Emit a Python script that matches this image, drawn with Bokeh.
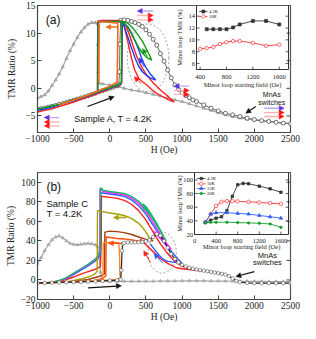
import numpy as np
from bokeh.plotting import figure
from bokeh.layouts import column
from bokeh.models import Range1d, Arrow, NormalHead, ColumnDataSource, FixedTicker, Label
from bokeh.core.properties import value
from bokeh.embed import file_html
from bokeh.resources import INLINE

SERIF = "Liberation Serif"
SANS = "Liberation Sans"

# ---------------- shared ----------------
X_RANGE = (-1000, 2500)
X_TICKS = [-1000, -500, 0, 500, 1000, 1500, 2000, 2500]

# ---------------- panel (a) data ----------------
A_Y_RANGE = (-8, 15)
A_Y_TICKS = [-5, 0, 5, 10, 15]

a_tri_x = [2500, 2400, 2300, 2200, 2100, 2000, 1900, 1800, 1700, 1600, 1500, 1400, 1300, 1200,
           1100, 1000, 900, 800, 700, 600, 500, 400, 300, 200, 100, 0, -100,
           -150, -160, -165, -170,
           -200, -250, -300, -350, -400, -450, -500, -550, -600, -650, -700, -750, -800, -850,
           -900, -950, -1000]
a_tri_y = [-6.4, -6.3, -6.15, -6.0, -5.9, -5.75, -5.6, -5.4, -5.1, -4.8, -4.4, -4.0, -3.6, -3.2,
           -2.8, -2.4, -2.1, -1.7, -1.4, -1.1, -0.8, -0.5, -0.3, 0.0, 0.3, 0.6, 0.8,
           0.9, 3.0, 8.0, 11.7,
           11.9, 11.9, 11.6, 11.0, 10.2, 9.2, 8.0, 6.8, 5.4, 3.9, 2.6, 1.5, 0.5, -0.5,
           -1.2, -1.5, -1.8]

a_circ_x = [-1000, -950, -900, -850, -800, -750, -700, -650, -600, -550, -500, -450, -400, -350,
            -300, -250, -200, -150, -100, -50, 0, 50, 100,
            125, 135, 140, 150,
            200, 250, 300, 350, 400, 450, 500, 550, 600, 650, 700, 750, 800, 850, 900, 950,
            1000, 1050, 1100, 1150, 1200,
            1300, 1400, 1500, 1600, 1700, 1800, 1900, 2000, 2100, 2200, 2300, 2400, 2500]
a_circ_y = [-3.8, -3.7, -3.55, -3.4, -3.25, -3.1, -2.9, -2.75, -2.55, -2.35, -2.15, -1.95, -1.75, -1.55,
            -1.35, -1.1, -0.9, -0.65, -0.4, -0.2, 0.0, 0.2, 0.45,
            0.7, 3.0, 8.0, 12.3,
            12.4, 12.3, 12.1, 11.9, 11.6, 11.2, 10.6, 9.8, 8.9, 7.8, 6.3, 4.9, 3.3, 1.9, 0.6, -0.2,
            -0.8, -1.3, -1.7, -2.1, -2.4,
            -3.0, -3.6, -4.1, -4.5, -4.8, -5.1, -5.4, -5.65, -5.85, -6.0, -6.15, -6.3, -6.4]

a_red_x = [-1000, -900, -800, -700, -600, -500, -400, -300, -200, -100, 0, 100, 150, 165, 170, 175,
           220, 270, 320, 370, 420, 452, 500, 600, 700, 800, 890,
           800, 700, 600, 520, 452, 400, 340, 290, 240, 200, 175,
           100, 0, -100, -165, -170, -172]
a_red_y = [-4.3, -4.0, -3.7, -3.3, -2.9, -2.5, -2.0, -1.6, -1.1, -0.6, -0.1, 0.4, 0.7, 1.0, 6.0, 11.9,
           11.4, 9.8, 7.8, 5.9, 4.4, 3.6, 2.6, 1.0, -0.3, -1.4, -2.5,
           -2.0, -1.3, -0.5, 0.5, 1.2, 1.8, 3.5, 6.0, 9.0, 11.2, 12.1,
           12.3, 12.3, 12.3, 12.2, 6.0, -0.8]

a_blue_x = [-1000, -900, -800, -700, -600, -500, -400, -300, -200, -100, 0, 100, 150, 162, 166, 170,
            250, 300, 350, 400, 452, 500, 560, 636,
            560, 500, 452, 400, 350, 300, 250, 200, 175,
            100, 0, -100, -162, -166, -168]
a_blue_y = [-4.0, -3.7, -3.4, -3.0, -2.6, -2.2, -1.8, -1.4, -0.9, -0.4, 0.0, 0.5, 0.8, 1.1, 6.0, 12.0,
            11.2, 10.0, 8.6, 7.0, 5.0, 3.8, 2.6, 1.5,
            1.9, 2.4, 3.0, 4.0, 5.5, 7.3, 9.3, 11.2, 12.0,
            12.1, 12.1, 12.1, 12.0, 6.0, -0.5]

a_green_x = [-1000, -900, -800, -700, -600, -500, -400, -300, -200, -100, 0, 100, 150, 160, 164, 168,
             250, 300, 350, 400, 452, 500, 550, 580,
             520, 452, 400, 350, 300, 250, 200, 175,
             100, 0, -100, -160, -164, -166]
a_green_y = [-3.7, -3.5, -3.2, -2.9, -2.5, -2.1, -1.7, -1.3, -0.8, -0.3, 0.1, 0.6, 0.9, 1.2, 6.0, 12.1,
             11.8, 11.2, 10.4, 9.5, 8.5, 7.3, 6.0, 5.1,
             5.5, 6.4, 7.4, 8.6, 9.9, 11.0, 11.8, 12.1,
             12.1, 12.1, 12.1, 12.0, 6.0, -0.3]

a_orange_x = [-700, -500, -300, -147, 0, 100, 108, 112, 50, -50, -147, -150, -152]
a_orange_y = [-3.0, -2.1, -1.2, -0.4, 0.4, 1.1, 6.0, 11.8, 11.9, 12.0, 12.1, 6.0, 0.9]

A_ELLIPSE = dict(x=[530], y=[5.5], w=[575], h=[12.3])

# arrows: start x, start y, end x, end y
a_arr_purple = ([600, 1098, 2135, -700], [14.0, 0.4, -3.6, -5.3], [380, 890, 2412, -907], [14.0, 0.4, -3.6, -5.3])
a_arr_red = ([380, 380, 890, 890, 2135, 2135, -700, -700],
             [13.2, 12.4, -0.4, -1.1, -4.4, -5.1, -6.1, -6.8],
             [600, 600, 1098, 1098, 2412, 2412, -907, -907],
             [13.2, 12.4, -0.4, -1.1, -4.4, -5.1, -6.1, -6.8])
a_arr_green = ([521], [5.8], [452], [7.2])
a_arr_blue = ([476], [3.9], [407], [5.5])
a_arr_redloop = ([430], [0.9], [337], [2.1])
a_arr_orange = ([106], [11.1], [-55], [11.1])
a_arr_black = ([-308, 2019], [-3.3, -3.3], [61, 1881], [-1.5, -4.5])

# inset (a)
IA_X_RANGE = (345, 1740)
IA_Y_RANGE = (5, 15.8)
IA_X_TICKS = [400, 800, 1200, 1600]
IA_Y_TICKS = [6, 8, 10, 12, 14]
ia_42_x = [500, 600, 700, 800, 900, 1000, 1200, 1400, 1600]
ia_42_y = [11.8, 11.8, 11.8, 11.8, 12.1, 12.6, 13.2, 13.2, 12.6]
ia_10_x = [400, 500, 600, 700, 800, 900, 1000, 1200, 1400, 1600]
ia_10_y = [8.5, 8.6, 8.8, 9.3, 9.6, 9.8, 9.8, 9.5, 9.0, 9.2]

# ---------------- panel (b) data ----------------
B_Y_RANGE = (-20, 110)
B_Y_TICKS = [-20, 0, 20, 40, 60, 80, 100]

b_tri_x = [2500, 2400, 2300, 2200, 2100, 2000, 1900, 1800, 1700, 1600, 1500, 1400, 1300, 1200,
           1100, 1000, 900, 800, 700, 600, 500, 400, 300, 200, 100, 0,
           -100, -110, -130, -150, -170,
           -200, -250, -300, -350, -400, -450, -500, -550, -600, -650, -700, -750, -800, -850,
           -900, -950, -1000]
b_tri_y = [-1.7, -1.7, -1.6, -1.6, -1.5, -1.5, -1.4, -1.3, -1.3, -1.2, -1.2, -1.1, -1.0, -1.0,
           -1.0, -1.0, -1.1, -1.2, -1.2, -1.3, -1.4, -1.4, -1.5, -1.5, -1.5, -1.5,
           -1.0, 0.0, 8.0, 25.0, 34.0,
           36.0, 37.0, 37.5, 37.0, 36.5, 36.0, 36.5, 37.5, 40.0, 43.0, 45.0, 44.0, 41.0, 36.0,
           30.0, 23.0, 17.0]

b_blk_x = [-1000, -900, -800, -700, -600, -500, -400, -300, -200, -100, 0, 100,
           150, 160, 170, 180,
           200, 250, 300, 350, 400, 450, 500, 550, 600, 650,
           700, 750, 800, 850, 900, 950, 1000, 1050, 1100, 1150,
           1200, 1250, 1300, 1350, 1400, 1450, 1500, 1550, 1600, 1650,
           1700, 1750, 1800,
           1900, 2000, 2100, 2200, 2300, 2400, 2500]
b_blk_y = [-3.2, -3.0, -2.8, -2.6, -2.4, -2.2, -2.0, -1.7, -1.4, -1.0, -0.6, -0.2,
           0.5, 10.0, 30.0, 37.0,
           38.0, 38.5, 38.5, 38.5, 38.5, 38.8, 39.5, 41.0, 44.0, 47.0,
           45.5, 40.0, 33.0, 26.5, 21.5, 18.0, 15.5, 13.8, 12.5, 11.5,
           10.7, 10.1, 9.5, 8.9, 8.3, 7.6, 6.9, 6.2, 5.5, 4.0,
           1.5, -1.0, -2.3,
           -3.0, -3.2, -3.2, -3.2, -3.2, -3.2, -3.2]

b_mag_x = [-1000, -900, -800, -700, -600, -500, -400, -300, -200, -150,
           -140, -136, -135, -120, -100, -50, 0, 100, 200, 300,
           400, 500, 600, 700, 800, 850, 800, 750, 700, 650, 600]
b_mag_y = [-3.5, -3.2, -2.5, -1.0, 2.0, 6.5, 11.0, 15.5, 21.0, 25.0,
           28.0, 60.0, 93.0, 93.5, 91.0, 90.0, 89.5, 88.5, 87.0, 84.0,
           78.5, 70.5, 59.0, 47.0, 36.0, 31.5, 34.0, 38.0, 42.5, 47.0, 50.0]

b_grn_x = [-1000, -900, -800, -700, -600, -500, -400, -300, -200, -150,
           -132, -130, -110, -100, 0, 100, 200, 300, 400, 500,
           600, 700, 780, 750, 700, 650, 600, 550, 500, 460]
b_grn_y = [-3.3, -3.0, -2.3, -0.8, 2.5, 7.0, 11.5, 16.0, 21.5, 26.0,
           29.0, 94.0, 94.0, 92.0, 90.5, 89.5, 88.5, 85.5, 80.5, 73.0,
           62.0, 50.0, 40.0, 44.0, 51.0, 58.0, 64.0, 70.0, 75.0, 78.0]

b_blu_x = [-1000, -800, -600, -500, -400, -300, -200, -150, -128, -126,
           -100, 0, 100, 200, 300, 400, 500, 600, 700, 800,
           900, 1000, 950, 900, 800, 740, 680, 620, 560]
b_blu_y = [-3.4, -2.6, 1.5, 5.5, 10.0, 14.5, 19.5, 23.0, 26.0, 90.0,
           89.0, 88.0, 87.0, 85.5, 82.0, 76.0, 67.5, 56.0, 44.0, 34.0,
           25.0, 17.0, 17.5, 18.0, 19.0, 21.0, 25.5, 31.0, 37.0]

b_red_x = [-1000, -800, -700, -600, -500, -400, -300, -200, -130, -118,
           -116, -100, 0, 100, 200, 300, 400, 500, 600, 700,
           800, 900, 1000, 1100, 1200, 1400, 1600, 1400, 1200, 1000,
           920, 800, 700, 600, 500, 460, 420]
b_red_y = [-3.5, -2.8, -1.5, 0.5, 3.0, 6.0, 8.5, 11.0, 13.5, 40.0,
           86.0, 85.5, 84.5, 83.5, 81.5, 77.5, 71.0, 61.5, 49.0, 37.0,
           27.0, 19.0, 14.0, 11.5, 10.0, 8.0, 6.0, 8.6, 9.8, 11.5,
           12.5, 17.0, 22.0, 29.0, 36.0, 39.0, 42.0]

b_oli_x = [-1000, -800, -600, -500, -400, -300, -250, -200, -175, -172,
           -170, -100, 0, 100, 200, 300, 400, 450, 500, 550, 600]
b_oli_y = [-3.3, -3.0, -2.0, -0.5, 1.0, 3.0, 4.5, 6.5, 9.0, 40.0,
           71.0, 70.0, 68.5, 67.5, 66.0, 63.0, 58.0, 54.0, 49.0, 43.0, 40.0]

b_brn_x = [-1000, -500, -300, -150, -75, -70, -68, 0, 100, 200, 300, 400, 500, 550, 600]
b_brn_y = [-3.2, -1.5, 0.5, 3.5, 6.0, 30.0, 49.0, 50.0, 49.5, 48.5, 46.5, 44.0, 41.5, 40.8, 40.0]

b_dor_x = [-1000, -500, -200, -100, -55, -52, -50, 0, 100, 200, 300, 400, 500]
b_dor_y = [-3.0, -1.8, -0.5, 1.5, 4.0, 25.0, 44.0, 43.5, 42.5, 42.0, 41.0, 40.0, 39.5]

b_orn_x = [-600, -300, -150, -95, -93, -90, 0, 100, 125, 135, 140, 145, 100, 0, -100]
b_orn_y = [-2.4, -1.2, -0.3, 0.5, 20.0, 38.0, 38.5, 38.5, 38.0, 25.0, 5.0, 1.5, 0.5, 0.0, -0.5]

B_ELLIPSE = dict(x=[725], y=[28], w=[390], h=[42])

b_arr_green = ([553], [66], [461], [76.5])
b_arr_blue = ([737], [17], [610], [27])
b_arr_red = ([560], [18], [470], [30])
b_arr_olive = ([230], [64], [50], [64])
b_arr_orange = ([170], [37.5], [-20], [37.5])
b_arr_black = ([-300, 2000], [-8, 8.6], [160, 1745], [-6, 3.5])

# inset (b)
IB_X_RANGE = (0, 1740)
IB_Y_RANGE = (20, 111)
IB_X_TICKS = [0, 400, 800, 1200, 1600]
IB_Y_TICKS = [20, 40, 60, 80, 100]
ib_42_x = [200, 300, 400, 500, 600, 700, 800, 900, 1000, 1200, 1400, 1600]
ib_42_y = [38, 41, 44, 46, 55, 76, 93, 95, 94.5, 91, 87, 82]
ib_10_x = [200, 300, 400, 500, 600, 700, 800, 1000, 1200, 1400, 1600]
ib_10_y = [38, 50, 62, 68, 69, 69, 68.5, 68, 67, 66, 65]
ib_15_x = [200, 300, 400, 600, 800, 1000, 1200, 1400, 1600]
ib_15_y = [38, 50, 52, 52, 51, 50, 48, 46, 44]
ib_20_x = [200, 300, 400, 600, 800, 1000, 1200, 1400, 1600]
ib_20_y = [37, 38, 38, 38, 37.5, 37, 36.5, 35.5, 30.5]

# ---------------- layout (pixels) ----------------
FRAME_L, FRAME_W = 45, 253
A_TOP, A_H = 13, 127
B_TOP, B_H = 180, 127


def px2x(px):
    return X_RANGE[0] + (px - FRAME_L) / FRAME_W * (X_RANGE[1] - X_RANGE[0])


def make_py2y(top, h, yr):
    return lambda py: yr[1] - (py - top) / h * (yr[1] - yr[0])


def make_main(y_range, y_ticks, frame_h, top_border, bottom_border, ylab_standoff):
    p = figure(frame_width=FRAME_W, frame_height=frame_h,
               x_range=Range1d(*X_RANGE), y_range=Range1d(*y_range),
               output_backend="svg", toolbar_location=None,
               min_border_left=37, min_border_right=10,
               min_border_top=top_border, min_border_bottom=bottom_border)
    p.xgrid.visible = False
    p.ygrid.visible = False
    p.outline_line_color = "#555555"
    p.outline_line_width = 1.2
    for ax, ticks, label in ((p.xaxis[0], X_TICKS, "H (Oe)"), (p.yaxis[0], y_ticks, "TMR Ratio (%)")):
        ax.ticker = FixedTicker(ticks=ticks)
        ax.axis_label = label
        ax.axis_label_text_font = SERIF
        ax.axis_label_text_font_size = "9.5px"
        ax.axis_label_text_font_style = "normal"
        ax.axis_label_text_color = "#222222"
        ax.major_label_text_font = SERIF
        ax.major_label_text_font_size = "9.5px"
        ax.major_label_text_color = "#222222"
        ax.major_tick_in = 4
        ax.major_tick_out = 0
        ax.minor_tick_in = 0
        ax.minor_tick_out = 0
        ax.axis_line_color = "#444444"
        ax.major_tick_line_color = "#444444"
        ax.major_label_standoff = 2
    p.xaxis[0].axis_label_standoff = 0
    p.yaxis[0].axis_label_standoff = ylab_standoff
    return p


def arrows(p, data, color, size=5, line_color=None, line_alpha=1.0, width=1.0):
    x0, y0, x1, y1 = data
    src = ColumnDataSource(dict(x0=x0, y0=y0, x1=x1, y1=y1))
    p.add_layout(Arrow(end=NormalHead(size=size, fill_color=color, line_color=color, line_width=0.5),
                       x_start="x0", y_start="y0", x_end="x1", y_end="y1", source=src,
                       line_color=line_color or color, line_alpha=line_alpha, line_width=width))


def right_ticks(p, ticks, xr):
    p.ray(x=[xr[1]] * len(ticks), y=ticks, length=4, length_units="screen", angle=np.pi,
          line_color="#444444", line_width=1)


def inset(p, frame_px, py2y, xs, ys, xticks, yticks, ylabel_px, series, legend_rows, xlab_dy, ticklab_dy):
    l, r, t, b = frame_px
    sub = p.subplot(x_source=Range1d(*xs), y_source=Range1d(*ys),
                    x_target=Range1d(px2x(l), px2x(r)), y_target=Range1d(py2y(b), py2y(t)))
    sx = (xs[1] - xs[0]) / (r - l)
    sy = (ys[1] - ys[0]) / (b - t)
    sub.quad(left=[xs[0]], right=[xs[1]], bottom=[ys[0]], top=[ys[1]],
             fill_color="white", line_color="#333333", line_width=1)
    tk = dict(length=3, length_units="screen", line_color="#333333", line_width=0.8)
    sub.ray(x=xticks, y=[ys[0]] * len(xticks), angle=np.pi / 2, **tk)
    sub.ray(x=[xs[0]] * len(yticks), y=yticks, angle=0, **tk)
    sub.ray(x=[xs[1]] * len(yticks), y=yticks, angle=np.pi, **tk)
    txt = dict(text_font=value(SERIF), text_color="#222222")
    sub.text(x=xticks, y=[ys[0] - ticklab_dy * sy] * len(xticks), text=[str(v) for v in xticks],
             text_align="center", text_baseline="middle", text_font_size="6.5px", **txt)
    sub.text(x=[xs[0] - 1.5 * sx] * len(yticks), y=yticks, text=[str(v) for v in yticks],
             text_align="right", text_baseline="middle", text_font_size="6.5px", **txt)
    sub.text(x=[(xs[0] + xs[1]) / 2], y=[ys[0] - xlab_dy * sy], text=["Minor loop starting field (Oe)"],
             text_align="center", text_baseline="middle", text_font_size="6.5px", **txt)
    sub.text(x=[xs[0] - (l - ylabel_px) * sx], y=[(ys[0] + ys[1]) / 2], text=["Minor loop TMR (%)"],
             angle=np.pi / 2, text_align="center", text_baseline="middle", text_font_size="6.5px", **txt)
    for (sxv, syv, color, marker, msize, fill) in series:
        sub.line(sxv, syv, line_color=color, line_width=0.9)
        sub.scatter(sxv, syv, marker=marker, size=msize, line_color=color, fill_color=fill, line_width=0.7)
    # legend rows: (label, color, marker, fill, msize, row offset px)
    for (label, color, marker, fill, msize, dy) in legend_rows:
        yy = ys[1] - dy * sy
        x0 = xs[0] + 2.7 * sx
        x1 = xs[0] + 11 * sx
        sub.line([x0, x1], [yy, yy], line_color=color, line_width=0.8)
        sub.scatter([(x0 + x1) / 2], [yy], marker=marker, size=msize, line_color=color, fill_color=fill,
                    line_width=0.6)
        sub.text(x=[xs[0] + 12.5 * sx], y=[yy], text=[label], text_align="left", text_baseline="middle",
                 text_font_size="4.5px", **txt)
    return sub


# =============== panel (a) ===============
pa = make_main(A_Y_RANGE, A_Y_TICKS, A_H, 5, 24, 5)
py2y_a = make_py2y(A_TOP, A_H, A_Y_RANGE)

pa.ellipse(x=A_ELLIPSE["x"], y=A_ELLIPSE["y"], width=A_ELLIPSE["w"], height=A_ELLIPSE["h"],
           fill_color=None, line_color="#a0a0a0", line_dash="2 2", line_width=1)
pa.line(a_tri_x, a_tri_y, line_color="#a0a0a0", line_width=1.2)
pa.scatter(a_tri_x, a_tri_y, marker="triangle", size=3.2, fill_color="#b0b0b0", line_color="#8a8a8a",
           line_width=0.5)
pa.line(a_circ_x, a_circ_y, line_color="#666666", line_width=1.0)
pa.scatter(a_circ_x, a_circ_y, marker="circle", size=4, fill_color="white", line_color="#4a4a4a",
           line_width=0.8)
pa.line(a_red_x, a_red_y, line_color="#ff1f1f", line_width=1.4)
pa.line(a_blue_x, a_blue_y, line_color="#1f3fff", line_width=1.4)
pa.line(a_green_x, a_green_y, line_color="#119911", line_width=1.4)
pa.line(a_orange_x, a_orange_y, line_color="#f26b1d", line_width=1.6)

inset(pa, (204, 296, 13, 77), py2y_a, IA_X_RANGE, IA_Y_RANGE, IA_X_TICKS, IA_Y_TICKS, 187,
      [(ia_42_x, ia_42_y, "#333333", "square", 3, "#333333"),
       (ia_10_x, ia_10_y, "#ff3030", "circle", 3.5, "white")],
      [("4.2K", "#333333", "square", "#333333", 3, 6),
       ("10K", "#ff3030", "circle", "white", 3.5, 11)],
      15, 7)
right_ticks(pa, A_Y_TICKS, X_RANGE)

arrows(pa, a_arr_purple, "#5a2fe6", size=5, line_color="#b8a8f5", width=1.4)
arrows(pa, a_arr_red, "#ff1010", size=5, line_color="#ffb0b0", width=1.4)
arrows(pa, a_arr_green, "#119911", size=5)
arrows(pa, a_arr_blue, "#1f3fff", size=5)
arrows(pa, a_arr_redloop, "#ff1f1f", size=5)
arrows(pa, a_arr_orange, "#f26b1d", size=5, width=1.4)
arrows(pa, a_arr_black, "#111111", size=5, width=1.2)

pa.add_layout(Label(x=-885, y=12.4, text="(a)", text_font=SANS, text_font_size="12px",
                    text_baseline="middle", text_align="left", text_color="#111111"))
pa.add_layout(Label(x=-492, y=-5.6, text="Sample A, T = 4.2K", text_font=SANS, text_font_size="9px",
                    text_baseline="middle", text_align="left", text_color="#111111"))
pa.add_layout(Label(x=2241, y=-1.2, text="MnAs", text_font=SANS, text_font_size="7px",
                    text_baseline="middle", text_align="center", text_color="#111111"))
pa.add_layout(Label(x=2241, y=-2.55, text="switches", text_font=SANS, text_font_size="7px",
                    text_baseline="middle", text_align="center", text_color="#111111"))

# =============== panel (b) ===============
pb = make_main(B_Y_RANGE, B_Y_TICKS, B_H, 15, 22, 2)
py2y_b = make_py2y(B_TOP, B_H, B_Y_RANGE)

pb.ellipse(x=B_ELLIPSE["x"], y=B_ELLIPSE["y"], width=B_ELLIPSE["w"], height=B_ELLIPSE["h"],
           fill_color=None, line_color="#a0a0a0", line_dash="2 2", line_width=1)
pb.line(b_tri_x, b_tri_y, line_color="#a8a8a8", line_width=1.2)
pb.scatter(b_tri_x, b_tri_y, marker="triangle", size=3.2, fill_color="#b8b8b8", line_color="#909090",
           line_width=0.5)
pb.line(b_red_x, b_red_y, line_color="#ff2020", line_width=1.4)
pb.line(b_blu_x, b_blu_y, line_color="#2f5cff", line_width=1.4)
pb.line(b_mag_x, b_mag_y, line_color="#ff22ff", line_width=1.4)
pb.line(b_grn_x, b_grn_y, line_color="#14b86a", line_width=1.4)
pb.line(b_oli_x, b_oli_y, line_color="#a6a000", line_width=1.4)
pb.line(b_brn_x, b_brn_y, line_color="#a0400a", line_width=1.4)
pb.line(b_dor_x, b_dor_y, line_color="#ff4a10", line_width=1.4)
pb.line(b_orn_x, b_orn_y, line_color="#ff8a20", line_width=1.4)
pb.line(b_blk_x, b_blk_y, line_color="#222222", line_width=1.2)
pb.scatter(b_blk_x, b_blk_y, marker="circle", size=3.5, fill_color="white", line_color="#555555",
           line_width=0.6)

inset(pb, (202, 296, 180, 242), py2y_b, IB_X_RANGE, IB_Y_RANGE, IB_X_TICKS, IB_Y_TICKS, 187,
      [(ib_42_x, ib_42_y, "#333333", "square", 2.5, "#333333"),
       (ib_10_x, ib_10_y, "#ff3030", "circle", 3.5, "white"),
       (ib_15_x, ib_15_y, "#2f5cff", "triangle", 3.5, "#2f5cff"),
       (ib_20_x, ib_20_y, "#14a030", "circle", 2.5, "#14a030")],
      [("4.2K", "#333333", "square", "#333333", 2.5, 6),
       ("10K", "#ff3030", "circle", "white", 3.5, 11.3),
       ("15K", "#2f5cff", "triangle", "#2f5cff", 3.5, 16),
       ("20K", "#14a030", "circle", "#14a030", 2.5, 21)],
      12, 6)
right_ticks(pb, B_Y_TICKS, X_RANGE)

arrows(pb, b_arr_green, "#14b86a", size=5)
arrows(pb, b_arr_blue, "#2f5cff", size=5)
arrows(pb, b_arr_red, "#ff2020", size=5)
arrows(pb, b_arr_olive, "#a6a000", size=5, width=1.4)
arrows(pb, b_arr_orange, "#ff4a10", size=5, width=1.4)
arrows(pb, b_arr_black, "#111111", size=5, width=1.2)

pb.add_layout(Label(x=-877, y=95.5, text="(b)", text_font=SANS, text_font_size="12px",
                    text_baseline="middle", text_align="left", text_color="#111111"))
pb.add_layout(Label(x=-877, y=78.6, text="Sample C", text_font=SANS, text_font_size="9.5px",
                    text_baseline="middle", text_align="left", text_color="#111111"))
pb.add_layout(Label(x=-877, y=67.7, text="T = 4.2K", text_font=SANS, text_font_size="9.5px",
                    text_baseline="middle", text_align="left", text_color="#111111"))
pb.add_layout(Label(x=2181, y=25.5, text="MnAs", text_font=SANS, text_font_size="7.5px",
                    text_baseline="middle", text_align="center", text_color="#111111"))
pb.add_layout(Label(x=2181, y=17.7, text="switches", text_font=SANS, text_font_size="7.5px",
                    text_baseline="middle", text_align="center", text_color="#111111"))

layout = column(pa, pb, spacing=0)
open("out.html", "w").write(file_html(layout, INLINE))
